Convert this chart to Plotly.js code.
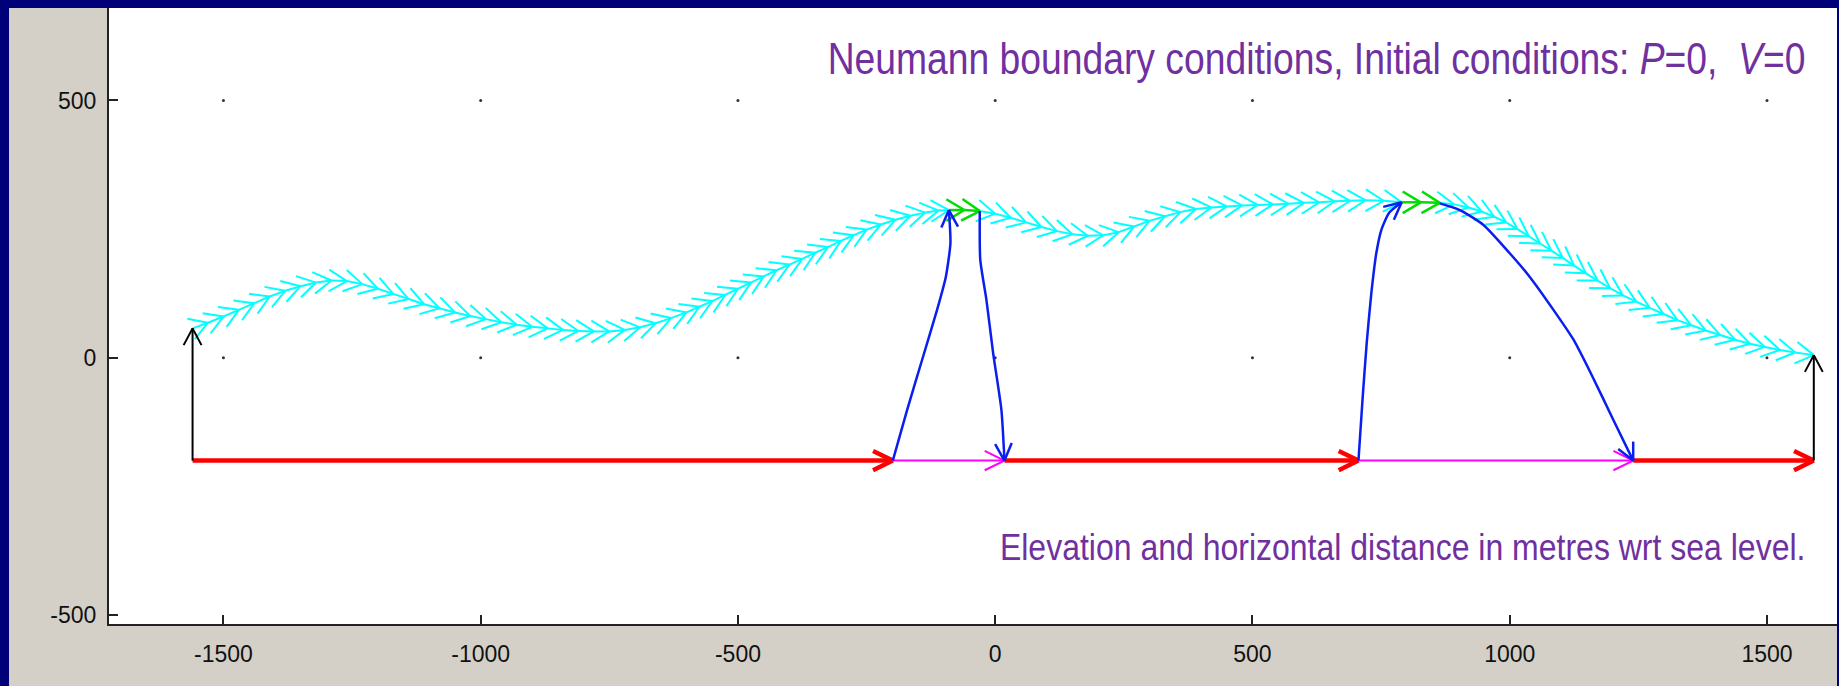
<!DOCTYPE html>
<html>
<head>
<meta charset="utf-8">
<script src="https://cdn.plot.ly/plotly-3.0.1.min.js"></script>
<style>
  html, body { margin: 0; padding: 0; width: 1839px; height: 686px; overflow: hidden; background: #000078; }
  #chart { position: absolute; left: 9px; top: 8px; width: 1828px; height: 678px; }
</style>
</head>
<body>
<div id="chart"></div>
<script>
// ---------- data (metres) ----------
const xTicks = [-1500, -1000, -500, 0, 500, 1000, 1500];
const yTicks = [-500, 0, 500];

// terrain profile (cyan chevrons; green where the walker is on the ridge)
const terrainX = [-1560,-1530,-1500,-1470,-1440,-1410,-1380,-1350,-1320,-1290,-1260,-1230,-1200,-1170,-1140,-1110,-1080,-1050,-1020,-990,-960,-930,-900,-870,-840,-810,-780,-750,-720,-690,-660,-630,-600,-575,-550,-525,-500,-475,-450,-425,-400,-375,-350,-325,-300,-275,-250,-222,-194,-165,-136,-110,-90,-60,-30,0,30,60,90,120,150,180,210,240,270,300,330,360,390,420,450,480,510,540,570,600,630,660,690,720,755,790,827,864,892,920,946,970,993,1015,1037,1059,1081,1103,1125,1148,1171,1195,1220,1246,1272,1299,1326,1353,1381,1409,1438,1467,1496,1525,1555,1591];
const terrainY = [57,68,80,93,106,119,130,139,146,150,149,143,134,124,114,104,96,88,81,75,69,64,60,57,54,52,51,51,54,59,67,77,88,99,110,122,134,146,158,170,181,192,204,215,227,238,249,259,268,276,282,286,287,287,285,280,272,263,254,246,240,237,238,244,255,266,275,283,289,292,294,296,297,298,299,301,302,304,305,306,305,302,302,301,298,292,284,274,263,250,236,222,208,194,179,164,150,135,121,109,97,85,73,63,53,44,35,27,21,15,10,5];

// baseline (reference level at -200 m): breakpoints
const baseX = [-1560, -199, 18, 706, 1240, 1591];
const baseLevel = -200;
const baseColors = ['#ff0000', '#ff00ff', '#ff0000', '#ff00ff', '#ff0000'];

// blue trajectories
const up1X = [-199, -171, -142, -113, -96, -87, -90];
const up1Y = [-200, -101, -4, 93, 157, 223, 287];
const down1X = [-30, -29, -17, -4, 12, 18];
const down1Y = [285, 190, 112, 9, -101, -200];
const up2X = [706, 714, 722, 731, 741, 751, 766, 790];
const up2Y = [-200, -80, 28, 125, 205, 250, 282, 302];
const down2X = [864, 903, 949, 1000, 1039, 1085, 1124, 1160, 1201, 1240];
const down2Y = [300, 287, 258, 203, 157, 93, 35, -35, -120, -200];

// ---------- geometry helpers ----------
const X0 = -1722.4, X1 = 1636.1, Y0 = -517.6, Y1 = 679.7;
const PW = 1728, PH = 616;
const PX = PW / (X1 - X0), PY = PH / (Y1 - Y0);

function barbs(xa, ya, xb, yb, len, ang) {
  const dx = (xb - xa) * PX, dy = (yb - ya) * PY;
  const d = Math.hypot(dx, dy) || 1;
  const ux = dx / d, uy = dy / d;
  const xs = [], ys = [];
  [1, -1].forEach(s => {
    const a = s * ang * Math.PI / 180;
    const bx = -(ux * Math.cos(a) - uy * Math.sin(a));
    const by = -(ux * Math.sin(a) + uy * Math.cos(a));
    xs.push(xb, xb + bx * len / PX, null);
    ys.push(yb, yb + by * len / PY, null);
  });
  return [xs, ys];
}

function lineTrace(xs, ys, color, width, shape) {
  return { x: xs, y: ys, type: 'scatter', mode: 'lines',
           line: { color: color, width: width, shape: shape || 'linear', smoothing: 0.6 },
           hoverinfo: 'skip', showlegend: false, connectgaps: false };
}

// polyline with an arrowhead at its end
function arrowPath(xs, ys, color, width, len, ang, shape) {
  const n = xs.length;
  const b = barbs(xs[n - 2], ys[n - 2], xs[n - 1], ys[n - 1], len, ang);
  return [lineTrace(xs, ys, color, width, shape), lineTrace(b[0], b[1], color, width)];
}

const traces = [];

// grid dots at tick intersections
const dotX = [], dotY = [];
yTicks.filter(v => v > yTicks[0]).forEach(yv => xTicks.forEach(xv => { dotX.push(xv); dotY.push(yv); }));
traces.push({ x: dotX, y: dotY, type: 'scatter', mode: 'markers',
  marker: { size: 3, color: '#333333' }, hoverinfo: 'skip', showlegend: false });

// terrain chevrons
const greenLo = up1X[up1X.length - 1], greenHi = down1X[0];
const greenLo2 = up2X[up2X.length - 1], greenHi2 = down2X[0];
const cyX = [], cyY = [], grX = [], grY = [];
for (let i = 1; i < terrainX.length; i++) {
  const xa = terrainX[i - 1], ya = terrainY[i - 1], xb = terrainX[i], yb = terrainY[i];
  const isGreen = (xa >= greenLo && xb <= greenHi) || (xa >= greenLo2 && xb <= greenHi2);
  const b = barbs(xa, ya, xb, yb, 21, 31);
  const tx = isGreen ? grX : cyX, ty = isGreen ? grY : cyY;
  tx.push(xa, xb, null, ...b[0]);
  ty.push(ya, yb, null, ...b[1]);
}
traces.push(lineTrace(cyX, cyY, '#00ffff', 2));

// baseline segments
for (let i = 1; i < baseX.length; i++) {
  const w = baseColors[i - 1] === '#ff0000' ? 4.5 : 2;
  traces.push(...arrowPath([baseX[i - 1], baseX[i]], [baseLevel, baseLevel], baseColors[i - 1], w, 22, 26));
}

// black end verticals
const nT = terrainX.length, nB = baseX.length;
traces.push(...arrowPath([baseX[0], terrainX[0]], [baseLevel, terrainY[0]], '#000000', 2, 19, 28));
traces.push(...arrowPath([baseX[nB - 1], terrainX[nT - 1]], [baseLevel, terrainY[nT - 1]], '#000000', 2, 19, 28));

// green ridge chevrons
traces.push(lineTrace(grX, grY, '#00dd00', 2.5));

// blue trajectories
const blue = '#0a1ef0';
traces.push(...arrowPath(up1X, up1Y, blue, 2.5, 19, 26, 'spline'));
traces.push(...arrowPath(down1X, down1Y, blue, 2.5, 19, 26, 'spline'));
traces.push(...arrowPath(up2X, up2Y, blue, 2.5, 19, 26, 'spline'));
traces.push(...arrowPath(down2X, down2Y, blue, 2.5, 19, 26, 'spline'));

const tickFont = { family: 'Liberation Sans, Arial, sans-serif', size: 23, color: '#111111' };
const layout = {
  width: 1828, height: 678,
  margin: { l: 100, r: 0, t: 0, b: 62, pad: 0 },
  paper_bgcolor: '#d4d0c8', plot_bgcolor: '#ffffff',
  showlegend: false, hovermode: false,
  xaxis: { range: [X0, X1], tickvals: xTicks, ticktext: xTicks.map(String), ticks: 'inside', ticklen: 9,
           tickwidth: 2, tickcolor: '#222222', showline: true, linecolor: '#222222', linewidth: 2,
           showgrid: false, zeroline: false, tickfont: tickFont, ticklabelstandoff: 8, fixedrange: true },
  yaxis: { range: [Y0, Y1], tickvals: yTicks, ticktext: yTicks.map(String), ticks: 'inside', ticklen: 9,
           tickwidth: 2, tickcolor: '#222222', showline: true, linecolor: '#222222', linewidth: 2,
           showgrid: false, zeroline: false, tickfont: tickFont, ticklabelstandoff: 6, fixedrange: true },
  annotations: [
    { xref: 'paper', yref: 'paper', x: 0.9832, y: 0.9188, xanchor: 'right', yanchor: 'middle', showarrow: false,
      text: 'Neumann boundary conditions, Initial conditions: <i>P</i>=0,  <i>V</i>=0',
      font: { family: 'Liberation Sans, Arial, sans-serif', size: 44, color: '#7030a0' } },
    { xref: 'paper', yref: 'paper', x: 0.9832, y: 0.1234, xanchor: 'right', yanchor: 'middle', showarrow: false,
      text: 'Elevation and horizontal distance in metres wrt sea level.',
      font: { family: 'Liberation Sans, Arial, sans-serif', size: 37, color: '#7030a0' } }
  ]
};
Plotly.newPlot('chart', traces, layout, { displayModeBar: false, staticPlot: true }).then(() => {
  // condensed (narrow) lettering as in the original
  const scales = [0.847, 0.865];
  document.querySelectorAll('#chart .annotation-text').forEach((el, i) => {
    el.style.transformBox = 'fill-box';
    el.style.transformOrigin = '100% 50%';
    el.style.transform = 'scaleX(' + scales[i] + ')';
  });
});
</script>
</body>
</html>
